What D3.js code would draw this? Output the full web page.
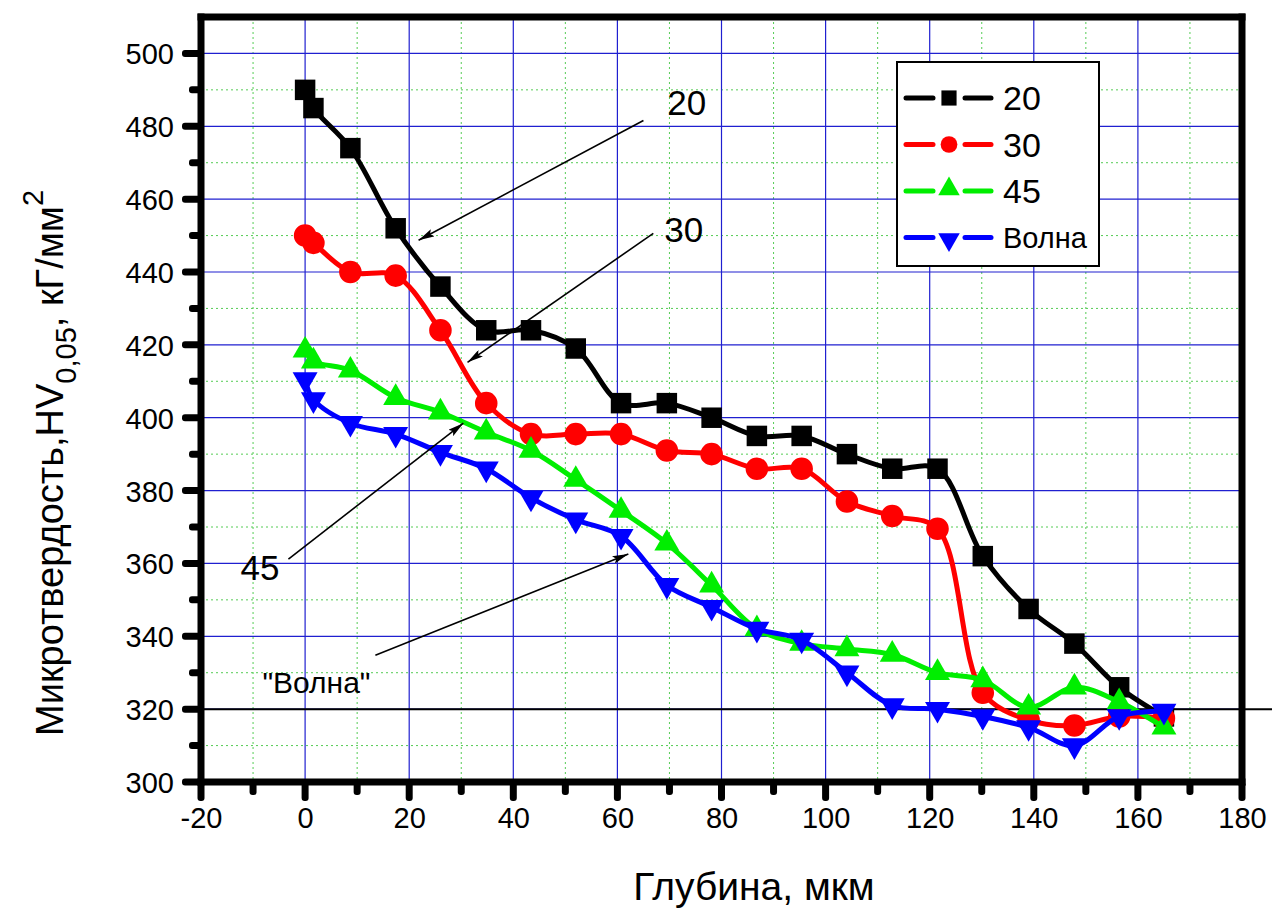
<!DOCTYPE html>
<html>
<head>
<meta charset="utf-8">
<script src="https://cdn.jsdelivr.net/npm/d3@7"></script>
<style>
    body { margin: 0; background: #fff; }
    svg { display: block; font-family: Arial, 'Liberation Sans', sans-serif; }
</style>
</head>
<body>
<div class="chart-container"></div>
<script>
// depth, um
const depth = [0, 1.6, 8.7, 17.4, 26, 34.8, 43.4, 52, 60.7, 69.5, 78.1, 86.8, 95.4, 104.1, 112.8, 121.5, 130.2, 139, 147.8, 156.4, 165];

// microhardness for each mode
const hv20 = [490, 485, 474, 452, 436, 424, 424, 419, 404, 404, 400, 395, 395, 390, 386, 386, 362, 347.5, 338, 326, 318];
const hv30 = [450, 448, 440, 439, 424, 404, 395.5, 395.5, 395.5, 391, 390, 386, 386, 377, 373, 369.5, 324.5, 317, 315.5, 318, 317.5];
const hv45 = [418.5, 415.5, 413, 405.5, 401.5, 396, 391, 383, 374.5, 365.5, 354, 342, 338, 336.5, 335, 330, 328, 320.5, 326, 322, 315];
const hvWave = [410.5, 405, 398.5, 395.5, 390.5, 386, 378, 372, 367.5, 354, 348, 342, 339, 330, 321, 320, 318, 315, 310, 318, 319.5];

const seriesNames = ['20', '30', '45', 'Волна'];
const seriesColors = ['#000000', '#ff0000', '#00ee00', '#0000ff'];

const xTicks = [-20, 0, 20, 40, 60, 80, 100, 120, 140, 160, 180];
const yTicks = [300, 320, 340, 360, 380, 400, 420, 440, 460, 480, 500];

// callouts: label, label position, arrow start, arrow tip (data units)
const callouts = [
    { text: '20', at: [69.6, 483], from: [65, 481.6], to: [21.8, 448.7] },
    { text: '30', at: [69, 448.1], from: [66.9, 450.6], to: [31.2, 415.2] },
    { text: '45', at: [-12.4, 355.4], from: [-3.2, 361.2], to: [30.4, 398.5] },
    { text: '"Волна"', at: [-8.2, 324.4], from: [13.5, 334.8], to: [62.1, 362.6], small: true }
];

const width = 1272;
const height = 909;
const plotLeft = 201, plotRight = 1242, plotTop = 17, plotBottom = 782;
const axisW = 7;

const svg = d3.select('.chart-container')
              .append('svg')
              .attr('width', width)
              .attr('height', height);

const xScale = d3.scaleLinear()
                 .domain([-20, 180])
                 .range([plotLeft, plotRight]);

const yScale = d3.scaleLinear()
                 .domain([300, 510])
                 .range([plotBottom, plotTop]);

const defs = svg.append('defs');
defs.append('marker')
    .attr('id', 'arrow')
    .attr('viewBox', '0 0 16 8')
    .attr('refX', 16)
    .attr('refY', 4)
    .attr('markerWidth', 16)
    .attr('markerHeight', 8)
    .attr('markerUnits', 'userSpaceOnUse')
    .attr('orient', 'auto')
    .append('path')
    .attr('d', 'M0,0 L16,4 L0,8 L3,4 Z')
    .attr('fill', '#000');

// grid
const grid = svg.append('g');
const minorX = d3.range(-10, 180, 20);
const minorY = d3.range(310, 510, 20);

grid.selectAll('.minor-x')
    .data(minorX)
    .enter()
    .append('line')
    .attr('x1', d => xScale(d))
    .attr('x2', d => xScale(d))
    .attr('y1', plotTop)
    .attr('y2', plotBottom)
    .attr('stroke', '#55cc55')
    .attr('stroke-width', 1)
    .attr('stroke-dasharray', '2,3');

grid.selectAll('.minor-y')
    .data(minorY)
    .enter()
    .append('line')
    .attr('x1', plotLeft)
    .attr('x2', plotRight)
    .attr('y1', d => yScale(d))
    .attr('y2', d => yScale(d))
    .attr('stroke', '#55cc55')
    .attr('stroke-width', 1)
    .attr('stroke-dasharray', '2,3');

grid.selectAll('.major-x')
    .data(xTicks.slice(1, -1))
    .enter()
    .append('line')
    .attr('x1', d => xScale(d))
    .attr('x2', d => xScale(d))
    .attr('y1', plotTop)
    .attr('y2', plotBottom)
    .attr('stroke', '#2020d0')
    .attr('stroke-width', 1.2);

grid.selectAll('.major-y')
    .data(yTicks.slice(1))
    .enter()
    .append('line')
    .attr('x1', plotLeft)
    .attr('x2', plotRight)
    .attr('y1', d => yScale(d))
    .attr('y2', d => yScale(d))
    .attr('stroke', '#2020d0')
    .attr('stroke-width', 1.2);

// reference line at 320
svg.append('line')
   .attr('x1', plotLeft)
   .attr('x2', width)
   .attr('y1', yScale(320))
   .attr('y2', yScale(320))
   .attr('stroke', '#000')
   .attr('stroke-width', 2);

// axes (labels from d3, tick marks drawn as filled bars)
const xAxis = d3.axisBottom(xScale)
                .tickValues(xTicks)
                .tickSize(17)
                .tickPadding(8)
                .tickFormat(d => String(d));
const gx = svg.append('g')
              .attr('transform', 'translate(0,' + plotBottom + ')')
              .call(xAxis);

const yAxis = d3.axisLeft(yScale)
                .tickValues(yTicks)
                .tickSize(17)
                .tickPadding(10)
                .tickFormat(d => String(d));
const gy = svg.append('g')
              .attr('transform', 'translate(' + plotLeft + ',0)')
              .call(yAxis);

[gx, gy].forEach(g => {
    g.select('.domain').remove();
    g.selectAll('.tick line').remove();
    g.selectAll('.tick text')
     .attr('fill', '#000')
     .style('font-size', '29px')
     .style('font-family', "Arial, 'Liberation Sans', sans-serif");
});
gy.selectAll('.tick text').attr('dy', '0.36em');

const ticks = svg.append('g').attr('fill', '#000');

ticks.selectAll('.xt')
     .data(xTicks.concat(minorX))
     .enter()
     .append('rect')
     .attr('x', d => xScale(d) - axisW / 2)
     .attr('y', plotBottom)
     .attr('width', axisW)
     .attr('height', d => d % 20 === 0 ? 19 : 13)
     .attr('rx', 3);

ticks.selectAll('.yt')
     .data(yTicks.concat(minorY))
     .enter()
     .append('rect')
     .attr('x', d => plotLeft - (d % 20 === 0 ? 19 : 12))
     .attr('y', d => yScale(d) - axisW / 2)
     .attr('width', d => d % 20 === 0 ? 19 : 12)
     .attr('height', axisW)
     .attr('rx', 3);

// frame
const frame = [
    [plotLeft - axisW / 2, plotTop - axisW / 2, plotRight - plotLeft + axisW, axisW],
    [plotLeft - axisW / 2, plotBottom - axisW / 2, plotRight - plotLeft + axisW, axisW],
    [plotLeft - axisW / 2, plotTop - axisW / 2, axisW, plotBottom - plotTop + axisW],
    [plotRight - axisW / 2, plotTop - axisW / 2, axisW, plotBottom - plotTop + axisW]
];
ticks.selectAll('.frame')
     .data(frame)
     .enter()
     .append('rect')
     .attr('x', d => d[0])
     .attr('y', d => d[1])
     .attr('width', d => d[2])
     .attr('height', d => d[3]);

// series
const allSeries = [hv20, hv30, hv45, hvWave];
const symbols = [d3.symbolSquare, d3.symbolCircle, d3.symbolTriangle, d3.symbolTriangle];
const symbolSizes = [420, 400, 270, 270];
const symbolRotate = [0, 0, 0, 180];

const line = d3.line()
               .x(d => xScale(d[0]))
               .y(d => yScale(d[1]))
               .curve(d3.curveCatmullRom.alpha(0.5));

allSeries.forEach((values, i) => {
    const points = depth.map((x, j) => [x, values[j]]);
    const g = svg.append('g');
    g.append('path')
     .attr('d', line(points))
     .attr('fill', 'none')
     .attr('stroke', seriesColors[i])
     .attr('stroke-width', 5)
     .attr('stroke-linejoin', 'round');
    g.selectAll('path.pt')
     .data(points)
     .enter()
     .append('path')
     .attr('class', 'pt')
     .attr('d', d3.symbol().type(symbols[i]).size(symbolSizes[i]))
     .attr('transform', d => 'translate(' + xScale(d[0]) + ',' + yScale(d[1]) + ') rotate(' + symbolRotate[i] + ')')
     .attr('fill', seriesColors[i]);
});

// callouts
callouts.forEach(c => {
    svg.append('line')
       .attr('x1', xScale(c.from[0]))
       .attr('y1', yScale(c.from[1]))
       .attr('x2', xScale(c.to[0]))
       .attr('y2', yScale(c.to[1]))
       .attr('stroke', '#000')
       .attr('stroke-width', 1.6)
       .attr('marker-end', 'url(#arrow)');
    svg.append('text')
       .attr('x', xScale(c.at[0]))
       .attr('y', yScale(c.at[1]))
       .style('font-size', c.small ? '30px' : '35px')
       .text(c.text);
});

// legend
const legend = svg.append('g').attr('transform', 'translate(897,62)');
legend.append('rect')
      .attr('width', 202)
      .attr('height', 204)
      .attr('fill', '#fff')
      .attr('stroke', '#000')
      .attr('stroke-width', 2);

const legendSizes = [230, 220, 200, 200];
seriesNames.forEach((name, i) => {
    const y = 36 + i * 46.5;
    const row = legend.append('g').attr('transform', 'translate(0,' + y + ')');
    row.append('line')
       .attr('x1', 9).attr('x2', 36)
       .attr('stroke', seriesColors[i])
       .attr('stroke-width', 5)
       .attr('stroke-linecap', 'round');
    row.append('line')
       .attr('x1', 68).attr('x2', 94)
       .attr('stroke', seriesColors[i])
       .attr('stroke-width', 5)
       .attr('stroke-linecap', 'round');
    row.append('path')
       .attr('d', d3.symbol().type(symbols[i]).size(legendSizes[i]))
       .attr('transform', 'translate(52,' + (i === 2 ? -2 : i === 3 ? 2 : 0) + ') rotate(' + symbolRotate[i] + ')')
       .attr('fill', seriesColors[i]);
    row.append('text')
       .attr('x', 106)
       .attr('dy', '0.36em')
       .style('font-size', i === 3 ? '29px' : '34px')
       .text(name);
});

// axis titles
svg.append('text')
   .attr('x', 754)
   .attr('y', 900)
   .attr('text-anchor', 'middle')
   .style('font-size', '39px')
   .text('Глубина, мкм');

const yTitle = svg.append('text')
                  .attr('transform', 'translate(63,736) rotate(-90)')
                  .style('font-size', '38px');
yTitle.append('tspan').text('Микротвердость,HV');
yTitle.append('tspan').attr('dy', 13).style('font-size', '29px').text('0,05');
yTitle.append('tspan').attr('dy', -13).text(', кГ/мм');
yTitle.append('tspan').attr('dy', -20).style('font-size', '29px').text('2');
</script>
</body>
</html>
